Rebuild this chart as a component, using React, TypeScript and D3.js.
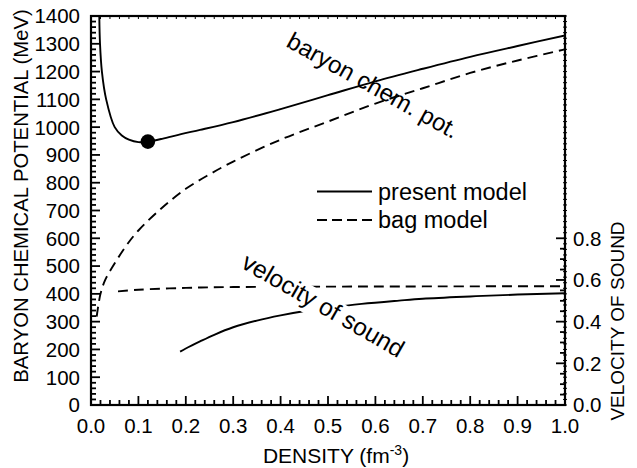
import React from "react";
import * as d3 from "d3";

const muPresentX = [0.0175, 0.019, 0.023, 0.032, 0.05, 0.065, 0.08, 0.1, 0.12, 0.15, 0.19, 0.23, 0.3, 0.4, 0.5, 0.6, 0.7, 0.8, 0.9, 1.0];
const muPresentY = [1400, 1300, 1200, 1100, 1000, 970, 955, 946, 948, 958, 975, 990, 1018, 1065, 1115, 1165, 1210, 1253, 1292, 1330];

const muBagX = [0.012, 0.02, 0.03, 0.05, 0.075, 0.1, 0.15, 0.2, 0.25, 0.3, 0.4, 0.5, 0.6, 0.7, 0.8, 0.9, 1.0];
const muBagY = [318, 400, 450, 510, 575, 628, 710, 778, 830, 876, 955, 1020, 1085, 1140, 1195, 1240, 1280];

const vsPresentX = [0.188, 0.2, 0.23, 0.26, 0.3, 0.35, 0.4, 0.455, 0.5, 0.571, 0.65, 0.7, 0.8, 0.9, 1.0];
const vsPresentY = [0.256, 0.271, 0.305, 0.337, 0.373, 0.405, 0.43, 0.452, 0.466, 0.485, 0.501, 0.51, 0.521, 0.53, 0.536];

const vsBagX = [0.057, 0.1, 0.2, 0.3, 0.5, 0.7, 1.0];
const vsBagY = [0.545, 0.553, 0.562, 0.566, 0.568, 0.569, 0.57];

const minPoint = { x: 0.12, y: 948 };

const xTickLabels = ["0.0", "0.1", "0.2", "0.3", "0.4", "0.5", "0.6", "0.7", "0.8", "0.9", "1.0"];
const yTickValues = [0, 100, 200, 300, 400, 500, 600, 700, 800, 900, 1000, 1100, 1200, 1300, 1400];
const vTickLabels = ["0.0", "0.2", "0.4", "0.6", "0.8"];

const FONT = "'Liberation Sans', Arial, Helvetica, sans-serif";

export default function App() {
  const L = 91, R = 565, T = 16, B = 405;
  const x = d3.scaleLinear().domain([0, 1]).range([L, R]);
  const y = d3.scaleLinear().domain([0, 1400]).range([B, T]);
  const yv = d3.scaleLinear().domain([0, 1400 / 750]).range([B, T]);

  const lineMu = d3.line<[number, number]>().x(d => x(d[0])).y(d => y(d[1])).curve(d3.curveCatmullRom.alpha(0.5));
  const lineV = d3.line<[number, number]>().x(d => x(d[0])).y(d => yv(d[1])).curve(d3.curveCatmullRom.alpha(0.5));

  const zip = (a: number[], b: number[]) => a.map((v, i) => [v, b[i]] as [number, number]);

  const xMinor = d3.range(0, 51).map(i => i * 0.02);
  const yMinor = d3.range(0, 71).map(i => i * 20);
  const vMinor = d3.range(0, 17).map(i => i * 0.05);
  const vMajor = vTickLabels.map(Number);

  const sw = 1.9;

  return (
    <svg width={637} height={468} style={{ display: "block", position: "absolute", left: 0, top: 0 }} fontFamily={FONT}>
      <defs>
        <clipPath id="plot">
          <rect x={L} y={T} width={R - L} height={B - T} />
        </clipPath>
      </defs>
      <rect x={0} y={0} width={637} height={468} fill="#fff" />

      <g clipPath="url(#plot)" fill="none" stroke="#000" strokeWidth={sw}>
        <path d={lineMu(zip(muPresentX, muPresentY)) || ""} />
        <path d={lineMu(zip(muBagX, muBagY)) || ""} strokeDasharray="10,6" />
        <path d={lineV(zip(vsPresentX, vsPresentY)) || ""} />
        <path d={lineV(zip(vsBagX, vsBagY)) || ""} strokeDasharray="10,6" />
      </g>
      <circle cx={x(minPoint.x)} cy={y(minPoint.y)} r={7.3} fill="#000" />

      {/* velocity of sound label with white background */}
      <g transform={`translate(240,267) rotate(30)`}>
        <rect x={-2} y={-20} width={184} height={28} fill="#fff" />
        <text x={0} y={0} fontSize={24.5}>velocity of sound</text>
      </g>
      <g transform={`translate(285,46) rotate(29)`}>
        <text x={0} y={0} fontSize={24}>baryon chem. pot.</text>
      </g>

      {/* legend */}
      <line x1={317} x2={372} y1={191.5} y2={191.5} stroke="#000" strokeWidth={sw} />
      <text x={378} y={199.5} fontSize={23.5}>present model</text>
      <line x1={317} x2={372} y1={220} y2={220} stroke="#000" strokeWidth={sw} strokeDasharray="10,5" />
      <text x={378} y={228} fontSize={23.5}>bag model</text>

      {/* frame */}
      <rect x={L} y={T} width={R - L} height={B - T} fill="none" stroke="#000" strokeWidth={2.2} />

      {/* ticks */}
      <g stroke="#000" strokeWidth={1.8}>
        {xMinor.map((v, i) => (
          <line key={"xb" + i} x1={x(v)} x2={x(v)} y1={B} y2={B - (i % 5 === 0 ? 9 : 5)} />
        ))}
        {xMinor.map((v, i) => (
          <line key={"xt" + i} x1={x(v)} x2={x(v)} y1={T} y2={T + 3} strokeWidth={1} />
        ))}
        {yMinor.map((v, i) => (
          <line key={"yl" + i} x1={L} x2={L + (i % 5 === 0 ? 9 : 5)} y1={y(v)} y2={y(v)} />
        ))}
        {yMinor.map((v, i) => (
          <line key={"yr" + i} x1={R - 2} x2={R + 2} y1={y(v)} y2={y(v)} strokeWidth={1} />
        ))}
        {vMinor.map((v, i) => (
          <line key={"vr" + i} x1={R} x2={R - (i % 4 === 0 ? 9 : 5)} y1={yv(v)} y2={yv(v)} />
        ))}
      </g>

      {/* tick labels */}
      <g fontSize={20.5} fill="#000">
        {xTickLabels.map((t, i) => (
          <text key={"xl" + i} x={x(+t)} y={433} textAnchor="middle">{t}</text>
        ))}
        {yTickValues.map((v, i) => (
          <text key={"yl" + i} x={80} y={y(v)} dy="0.36em" textAnchor="end">{v}</text>
        ))}
        {vTickLabels.map((t, i) => (
          <text key={"vl" + i} x={573} y={yv(vMajor[i])} dy="0.36em" textAnchor="start">{t}</text>
        ))}
      </g>

      {/* axis titles */}
      <text x={336} y={463} fontSize={21} textAnchor="middle">
        DENSITY (fm<tspan dy={-8} fontSize={14}>-3</tspan><tspan dy={8}>)</tspan>
      </text>
      <text transform="translate(28,196) rotate(-90)" fontSize={20.3} textAnchor="middle">
        BARYON CHEMICAL POTENTIAL (MeV)
      </text>
      <text transform="translate(624,321) rotate(-90)" fontSize={19} textAnchor="middle">
        VELOCITY OF SOUND
      </text>
    </svg>
  );
}
